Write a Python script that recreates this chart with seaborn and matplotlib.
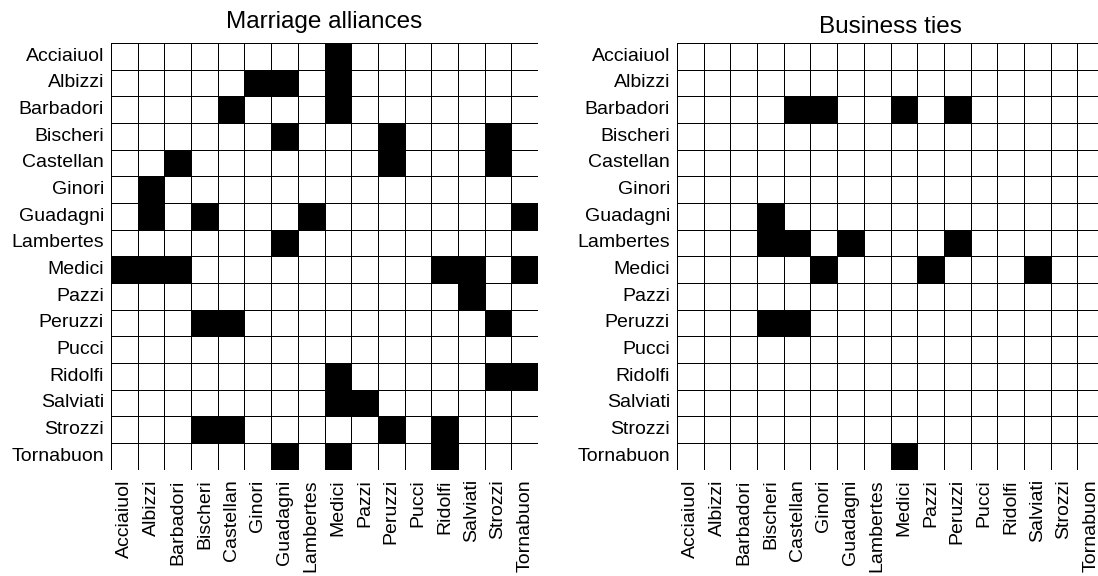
import numpy as np
import pandas as pd
import matplotlib
matplotlib.use("Agg")
import matplotlib.pyplot as plt
from matplotlib.colors import ListedColormap
import seaborn as sns

plt.rcParams['font.family'] = ['Liberation Sans', 'DejaVu Sans']

families = ["Acciaiuol", "Albizzi", "Barbadori", "Bischeri", "Castellan", "Ginori",
            "Guadagni", "Lambertes", "Medici", "Pazzi", "Peruzzi", "Pucci",
            "Ridolfi", "Salviati", "Strozzi", "Tornabuon"]

# adjacency rows (1 = tie), order as in families
marriage = [
    [0,0,0,0,0,0,0,0,1,0,0,0,0,0,0,0],
    [0,0,0,0,0,1,1,0,1,0,0,0,0,0,0,0],
    [0,0,0,0,1,0,0,0,1,0,0,0,0,0,0,0],
    [0,0,0,0,0,0,1,0,0,0,1,0,0,0,1,0],
    [0,0,1,0,0,0,0,0,0,0,1,0,0,0,1,0],
    [0,1,0,0,0,0,0,0,0,0,0,0,0,0,0,0],
    [0,1,0,1,0,0,0,1,0,0,0,0,0,0,0,1],
    [0,0,0,0,0,0,1,0,0,0,0,0,0,0,0,0],
    [1,1,1,0,0,0,0,0,0,0,0,0,1,1,0,1],
    [0,0,0,0,0,0,0,0,0,0,0,0,0,1,0,0],
    [0,0,0,1,1,0,0,0,0,0,0,0,0,0,1,0],
    [0,0,0,0,0,0,0,0,0,0,0,0,0,0,0,0],
    [0,0,0,0,0,0,0,0,1,0,0,0,0,0,1,1],
    [0,0,0,0,0,0,0,0,1,1,0,0,0,0,0,0],
    [0,0,0,1,1,0,0,0,0,0,1,0,1,0,0,0],
    [0,0,0,0,0,0,1,0,1,0,0,0,1,0,0,0],
]

business = [
    [0,0,0,0,0,0,0,0,0,0,0,0,0,0,0,0],
    [0,0,0,0,0,0,0,0,0,0,0,0,0,0,0,0],
    [0,0,0,0,1,1,0,0,1,0,1,0,0,0,0,0],
    [0,0,0,0,0,0,0,0,0,0,0,0,0,0,0,0],
    [0,0,0,0,0,0,0,0,0,0,0,0,0,0,0,0],
    [0,0,0,0,0,0,0,0,0,0,0,0,0,0,0,0],
    [0,0,0,1,0,0,0,0,0,0,0,0,0,0,0,0],
    [0,0,0,1,1,0,1,0,0,0,1,0,0,0,0,0],
    [0,0,0,0,0,1,0,0,0,1,0,0,0,1,0,0],
    [0,0,0,0,0,0,0,0,0,0,0,0,0,0,0,0],
    [0,0,0,1,1,0,0,0,0,0,0,0,0,0,0,0],
    [0,0,0,0,0,0,0,0,0,0,0,0,0,0,0,0],
    [0,0,0,0,0,0,0,0,0,0,0,0,0,0,0,0],
    [0,0,0,0,0,0,0,0,0,0,0,0,0,0,0,0],
    [0,0,0,0,0,0,0,0,0,0,0,0,0,0,0,0],
    [0,0,0,0,0,0,0,0,1,0,0,0,0,0,0,0],
]

titles = ["Marriage alliances", "Business ties"]

cmap = ListedColormap(["white", "black"])
fig = plt.figure(figsize=(10.98, 5.76), dpi=100)

ax1 = fig.add_axes([111/1098, 1 - 469.5/576, 427/1098, 426.5/576])
ax2 = fig.add_axes([677/1098, 1 - 469.5/576, 427/1098, 426.5/576])

for ax, mat, title, pad in [(ax1, marriage, titles[0], 11), (ax2, business, titles[1], 7)]:
    df = pd.DataFrame(mat, index=families, columns=families)
    sns.heatmap(df, ax=ax, cmap=cmap, vmin=0, vmax=1, cbar=False,
                linewidths=0.6, linecolor="black",
                xticklabels=families, yticklabels=families)
    ax.tick_params(axis="both", length=0, labelsize=14)
    ax.tick_params(axis="x", pad=7)
    ax.tick_params(axis="y", pad=5)
    ax.set_xticklabels(families, rotation=90, fontsize=14)
    ax.set_yticklabels(families, rotation=0, fontsize=14)
    ax.set_xlabel("")
    ax.set_ylabel("")
    ax.set_title(title, fontsize=17.5, pad=pad)

fig.savefig("out.png", dpi=100)
